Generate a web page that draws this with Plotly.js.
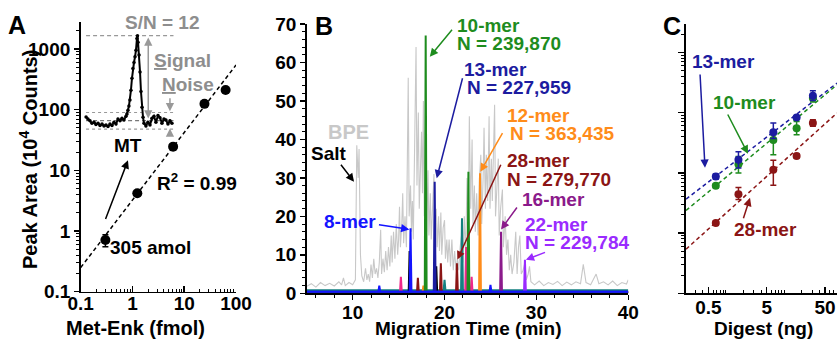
<!DOCTYPE html>
<html><head><meta charset="utf-8">
<script src="https://cdn.plot.ly/plotly-3.0.1.min.js"></script>
<style>html,body{margin:0;padding:0;background:#fff;overflow:hidden}</style>
</head><body><div id="chart" style="width:837px;height:339px"></div>
<script>
// ---------- Panel A data ----------
const metEnk = [0.30, 1.24, 6.1, 24.6, 63];
const peakArea = [0.71, 4.2, 24.6, 125, 212];
const peakAreaErr = [0.16, 0.3, 1.5, 8, 15];
const fitAx = [0.1, 100];
const fitAy = [0.25, 545];
// inset electropherogram (drawn in panel A coordinates)
const insetX = [0.127,0.138,0.151,0.165,0.181,0.197,0.216,0.236,0.258,0.282,0.308,0.337,0.368,0.402,0.439,0.480,0.525,0.574,0.627,0.685,0.749,0.783,0.818,0.855,0.894,0.935,0.978,1.02,1.07,1.12,1.17,1.22,1.25,1.28,1.34,1.40,1.46,1.53,1.60,1.67,1.82,1.99,2.18,2.38,2.60,2.84,3.11,3.40,3.71,4.06,4.43,4.85,5.30,5.79];
const insetY = [76,70,66,60,62,57,60,55,58,54,56,53,58,55,62,58,70,66,72,68,78,85,98,115,144,210,330,480,600,745,960,1500,1660,1300,800,420,200,110,75,60,54,62,56,72,78,62,80,74,60,70,68,58,66,60];
const snTop = 1660, noiseHi = 90, noiseMid = 66, noiseLo = 48;
const insetSpan = [0.127, 6.2];

// ---------- Panel B data ----------
// base peak electropherogram: [migration time (min), intensity]
const bpePoints = [[5.0,1.8],[5.5,2.5],[6.0,1.6],[6.5,2.8],[7.0,2.0],[7.5,2.6],[8.0,1.9],[8.5,3.0],[8.8,2.2],[9.0,4.0],[9.2,2.0],[9.6,2.8],[10.0,2.2],[10.3,3.5],
 [10.45,38.5],[10.6,30],[10.7,37.5],[10.85,10],
 [11.0,4.5],[11.2,3.0],[11.4,6.5],[11.55,3.5],[11.7,5.0],[11.85,3.0],[12.0,7.5],[12.15,4.0],[12.3,9.0],[12.45,5.0],[12.6,6.5],[12.75,4.0],[12.9,8.0],[13.05,16.5],[13.15,5.0],[13.3,9.0],[13.45,5.5],[13.6,11.0],[13.75,6.0],[13.9,12.0],[14.05,7.0],[14.2,15.0],[14.3,8.0],[14.45,16.0],[14.6,9.0],[14.75,18.0],[14.9,10.0],[15.0,14.0],[15.1,22.5],[15.2,12.0],[15.35,18.0],[15.45,26.0],[15.55,13.0],[15.7,20.0],[15.85,12.0],[15.95,30.0],
 [16.05,56.0],[16.15,20.0],[16.3,28.0],[16.4,16.0],[16.5,24.0],[16.6,14.0],[16.75,40.0],[16.9,64.0],[17.0,28.0],[17.15,47.0],[17.25,22.0],[17.4,35.0],[17.5,42.0],[17.6,26.0],[17.7,50.0],[17.8,20.0],[17.95,28.0],[18.05,16.0],[18.2,32.0],[18.3,15.0],[18.45,26.0],[18.55,14.0],[18.7,24.0],[18.85,31.0],[18.95,16.0],[19.1,22.0],[19.2,12.0],[19.35,20.0],[19.45,11.0],[19.6,21.0],[19.7,10.0],[19.85,17.0],[20.0,19.0],[20.1,9.0],[20.25,14.0],[20.35,8.0],[20.5,14.0],[20.65,7.0],[20.8,14.0],[20.95,6.0],[21.1,11.0],[21.25,6.0],[21.4,9.0],[21.55,6.0],[21.7,12.0],[21.85,15.0],[22.0,8.0],[22.15,20.0],[22.3,10.0],[22.45,30.0],[22.6,20.0],[22.7,46.0],[22.85,22.0],[23.0,40.0],[23.1,18.0],[23.25,28.0],[23.35,16.0],[23.5,26.0],[23.65,15.0],[23.8,30.0],[23.95,36.0],[24.05,18.0],[24.2,30.0],[24.3,43.0],[24.45,22.0],[24.55,36.0],[24.7,24.0],[24.85,46.0],[24.95,22.0],[25.1,35.0],[25.2,24.0],[25.3,38.0],[25.45,49.0],[25.55,20.0],[25.7,30.0],[25.85,35.0],[25.95,15.0],[26.1,22.0],[26.3,27.0],[26.4,12.0],[26.6,20.0],[26.75,10.0],[26.9,14.0],[27.05,6.0],[27.2,10.0],[27.35,5.0],[27.55,8.0],[27.75,16.0],[27.9,5.0],[28.05,12.0],[28.2,15.0],[28.35,5.0],[28.55,6.0],[28.75,8.0],[28.9,3.5],[29.1,5.0],[29.25,7.0],[29.4,3.0],
 [29.8,2.2],[30.3,3.2],[30.8,2.0],[31.3,2.8],[31.8,2.3],[32.3,3.1],[32.8,2.0],[33.3,2.9],[33.8,2.2],[34.3,3.0],[34.8,2.5],[35.1,7.5],[35.4,2.8],[35.9,2.2],[36.5,5.0],[36.8,2.5],[37.3,3.0],[37.8,2.2],[38.3,3.2],[38.8,2.0],[39.3,2.8],[39.8,2.4],[40.0,3.5]];
const mer8T = [5,12.8,12.9,13.0,16.2,16.3,16.4,24.9,25.0,25.1,40];
const mer8I = [0.4,0.4,2.0,0.4,0.4,16.9,0.4,0.4,2.2,0.4,0.4];
const mer10T = [5,17.85,17.95,18.05,22.5,22.6,22.7,40];
const mer10I = [0.3,0.3,67,0.3,0.3,31.6,0.3,0.3];
const mer13T = [5,18.83,18.93,19.03,40];
const mer13I = [0.4,0.4,29,0.4,0.4];
const blackT = [5,16.1,16.2,16.3,19.0,19.1,19.2,40];
const blackI = [0.2,0.2,11,0.2,0.2,7,0.2,0.2];
const mer12T = [5,17.6,17.7,17.8,23.76,23.86,23.96,40];
const mer12I = [0.2,0.2,2,0.2,0.2,31.2,0.2,0.2];
const mer28T = [5,17.0,17.1,17.2,19.5,19.6,19.7,21.25,21.35,21.45,40];
const mer28I = [0.2,0.2,4,0.2,0.2,7.8,0.2,0.2,7.8,0.2,0.2];
const tealT = [5,19.9,20.0,20.1,21.8,21.9,22.0,40];
const tealI = [0.8,0.8,3.5,0.8,0.8,19.5,0.8,0.8];
const pinkT = [5,15.15,15.25,15.35,22.25,22.35,22.45,22.85,22.95,23.05,40];
const pinkI = [0.2,0.2,4.3,0.2,0.2,12,0.2,0.2,4.3,0.2,0.2];
const mer16T = [5,26.05,26.15,26.25,40];
const mer16I = [0.2,0.2,16,0.2,0.2];
const mer22T = [5,28.65,28.75,28.85,40];
const mer22I = [0.2,0.2,8.7,0.2,0.2];

// ---------- Panel C data ----------
const digest = [0.67, 1.64, 6.5, 16.3, 31];
const c13 = [8.7, 16.4, 47, 83, 191];
const c13Up = [0.9, 6, 20, 5, 40], c13Dn = [0.9, 4.4, 10, 5, 32];
const c10 = [6.1, 13.9, 35, 55, 175];
const c10Up = [0.5, 4.7, 8, 16, 25], c10Dn = [0.5, 4, 15, 12, 25];
const c28 = [1.47, 4.4, 11.2, 19.1, 67];
const c28Up = [0.12, 1.3, 5, 1.5, 9], c28Dn = [0.12, 0.8, 5, 1.5, 8];
const fitCx = [0.207, 80];
const fit13 = [3.66, 307];
const fit10 = [2.37, 288];
const fit28 = [0.54, 98];

// tick labels / positions
const aTicks = [0.1, 1, 10, 100];
const aYTicks = [0.1, 1, 10, 100, 1000];
const bXTicks = [10, 20, 30, 40];
const cXTicks = [0.5, 5, 50];
const cXLabels = ['0.5', '5', '50'];
const cYTicks = [0.1, 1, 10, 100, 1000];
const logMinorX = [0.2,0.3,0.4,0.5,0.6,0.7,0.8,0.9,2,3,4,5,6,7,8,9,20,30,40,50,60,70,80,90];
const logMinorY = [0.2,0.3,0.4,0.5,0.6,0.7,0.8,0.9,2,3,4,5,6,7,8,9,20,30,40,50,60,70,80,90,200,300,400,500,600,700,800,900,2000];
const cMinorX = [0.3,0.4,0.6,0.7,0.8,0.9,1,2,3,4,6,7,8,9,10,20,30,40,60,70];

// colours
const GREEN = '#1e8c1e', NAVY = '#1c1ca0', BLUE = '#1414ff', ORANGE = '#ff8c1a',
      DRED = '#8b1515', PURPLE = '#8b1a8b', VIOLET = '#9a2bff', TEAL = '#138080',
      PINK = '#f0288c', GRAY = '#c8c8c8', TGRAY = '#8e8e8e';

const FONT = '"Liberation Sans", Arial, sans-serif';
const traces = [];
// Panel A
traces.push({x: fitAx, y: fitAy, xaxis:'x', yaxis:'y', mode:'lines', line:{color:'#000', width:1.5, dash:'4px,3px'}, hoverinfo:'skip'});
traces.push({x: insetSpan, y: [snTop, snTop], xaxis:'x', yaxis:'y', mode:'lines', line:{color:'#999', width:1.2, dash:'4px,3px'}});
traces.push({x: insetSpan, y: [noiseHi, noiseHi], xaxis:'x', yaxis:'y', mode:'lines', line:{color:'#999', width:1.2, dash:'dot'}});
traces.push({x: insetSpan, y: [noiseMid, noiseMid], xaxis:'x', yaxis:'y', mode:'lines', line:{color:'#777', width:1.2, dash:'4px,3px'}});
traces.push({x: insetSpan, y: [noiseLo, noiseLo], xaxis:'x', yaxis:'y', mode:'lines', line:{color:'#999', width:1.2, dash:'dot'}});
traces.push({x: insetX, y: insetY, xaxis:'x', yaxis:'y', mode:'lines+markers', line:{color:'#000', width:2}, marker:{color:'#000', size:3.5}});
traces.push({x: metEnk, y: peakArea, xaxis:'x', yaxis:'y', mode:'markers', marker:{color:'#000', size:10},
  error_y:{type:'data', array: peakAreaErr, color:'#000', thickness:1.5, width:3}});
// Panel B
traces.push({x: bpePoints.map(p => p[0]), y: bpePoints.map(p => p[1]), xaxis:'x2', yaxis:'y2', mode:'lines', line:{color:GRAY, width:1.1}});
const spikes = [[tealT,tealI,TEAL],[pinkT,pinkI,PINK],[mer28T,mer28I,DRED],[mer12T,mer12I,ORANGE],[blackT,blackI,'#000'],
  [mer16T,mer16I,PURPLE],[mer22T,mer22I,VIOLET],[mer10T,mer10I,GREEN],[mer13T,mer13I,NAVY],[mer8T,mer8I,BLUE]];
spikes.forEach(s => traces.push({x:s[0], y:s[1], xaxis:'x2', yaxis:'y2', mode:'lines', line:{color:s[2], width:2}}));
// Panel C
[[fit13,NAVY],[fit10,GREEN],[fit28,DRED]].forEach(f => traces.push({x: fitCx, y: f[0], xaxis:'x3', yaxis:'y3', mode:'lines', line:{color:f[1], width:1.5, dash:'4px,3px'}}));
[[c10,c10Up,c10Dn,GREEN],[c13,c13Up,c13Dn,NAVY],[c28,c28Up,c28Dn,DRED]].forEach(c => traces.push({x: digest, y: c[0], xaxis:'x3', yaxis:'y3', mode:'markers',
  marker:{color:c[3], size:8}, error_y:{type:'data', symmetric:false, array:c[1], arrayminus:c[2], color:c[3], thickness:1.5, width:3}}));

const tf = {family: FONT, size: 19, color: '#000', weight: 'bold'};
const axBase = {showline:true, linecolor:'#000', linewidth:1.6, showgrid:false, zeroline:false, tickcolor:'#000', tickwidth:1.5, tickfont: tf, fixedrange:true};

const ann = [];
function txt(text, x, y, xref, yref, color, opts) {
  ann.push(Object.assign({text, x, y, xref, yref, xanchor:'center', yanchor:'middle', showarrow:false,
    font:{family:FONT, size:19, color, weight:'bold'}}, opts||{}));
}
function arr(x0, y0, x1, y1, xref, yref, color, opts) {
  ann.push(Object.assign({text:'', x:x1, y:y1, ax:x0, ay:y0, xref, yref, axref:xref, ayref:yref, showarrow:true,
    arrowhead:2, arrowsize:1.1, arrowwidth:1.5, arrowcolor:color, standoff:0, startstandoff:0}, opts||{}));
}
const big = c => ({family:FONT, size:25, color:c, weight:'bold'});
// panel letters
txt('A', 17/837, 1-25/339, 'paper', 'paper', '#000', {font:big('#000')});
txt('B', 324/837, 1-25.5/339, 'paper', 'paper', '#000', {font:big('#000')});
txt('C', 672/837, 1-26/339, 'paper', 'paper', '#000', {font:big('#000')});
// axis titles
txt('Met-Enk (fmol)', 135/837, 1-328/339, 'paper', 'paper', '#000', {font:{family:FONT,size:20,color:'#000',weight:'bold'}});
txt('Peak Area (10<sup>4</sup> Counts)', 28/837, 1-160/339, 'paper', 'paper', '#000', {textangle:-90, font:{family:FONT,size:20,color:'#000',weight:'bold'}});
txt('Migration Time (min)', 468/837, 1-328/339, 'paper', 'paper', '#000');
txt('Digest (ng)', 763/837, 1-328/339, 'paper', 'paper', '#000');
// Panel A annotations (log coordinates)
txt('S/N = 12', 0.569, 3.435, 'x', 'y', TGRAY);
txt('<u>S</u>ignal', 0.376, 2.818, 'x', 'y', TGRAY, {xanchor:'left'});
txt('<u>N</u>oise', 0.531, 2.416, 'x', 'y', TGRAY, {xanchor:'left'});
txt('MT', -0.081, 1.402, 'x', 'y', '#000');
txt('R<sup>2</sup> = 0.99', 1.239, 0.807, 'x', 'y', '#000');
txt('305 amol', 0.351, -0.268, 'x', 'y', '#000');
arr(0.305, 1.83, 0.305, 3.19, 'x', 'y', '#999', {arrowside:'end+start', arrowwidth:1.5});
arr(0.724, 2.212, 0.724, 1.975, 'x', 'y', '#999');
arr(0.724, 1.55, 0.724, 1.69, 'x', 'y', '#999');
arr(-0.531, 0.174, -0.087, 1.165, 'x', 'y', '#000');
// Panel B annotations
txt('BPE', 9.53, 42, 'x2', 'y2', GRAY, {font:{family:FONT,size:20,color:GRAY,weight:'bold'}});
txt('Salt', 7.43, 36.4, 'x2', 'y2', '#000');
arr(8.6, 33.8, 10.15, 29, 'x2', 'y2', '#000');
txt('8-mer', 9.71, 18.6, 'x2', 'y2', BLUE);
arr(12.7, 17.9, 16.17, 16.6, 'x2', 'y2', BLUE);
txt('10-mer', 21.15, 69.7, 'x2', 'y2', GREEN, {xanchor:'left'});
txt('N = 239,870', 21.15, 65.0, 'x2', 'y2', GREEN, {xanchor:'left'});
arr(20.95, 68.9, 18.4, 61.5, 'x2', 'y2', GREEN);
txt('13-mer', 21.87, 58.3, 'x2', 'y2', NAVY, {xanchor:'left'});
txt('N = 227,959', 22.2, 53.5, 'x2', 'y2', NAVY, {xanchor:'left'});
arr(22.0, 56.3, 19.15, 29.9, 'x2', 'y2', NAVY);
txt('12-mer', 26.58, 46.3, 'x2', 'y2', ORANGE, {xanchor:'left'});
txt('N = 363,435', 26.94, 41.6, 'x2', 'y2', ORANGE, {xanchor:'left'});
arr(26.4, 42, 23.9, 31.6, 'x2', 'y2', ORANGE);
txt('28-mer', 26.58, 34.5, 'x2', 'y2', DRED, {xanchor:'left'});
txt('N = 279,770', 26.58, 29.5, 'x2', 'y2', DRED, {xanchor:'left'});
arr(26.2, 33.8, 21.4, 8.8, 'x2', 'y2', DRED);
txt('16-mer', 28.2, 24.3, 'x2', 'y2', PURPLE, {xanchor:'left'});
arr(28.0, 22.7, 26.15, 16.6, 'x2', 'y2', PURPLE);
txt('22-mer', 28.57, 17.8, 'x2', 'y2', VIOLET, {xanchor:'left'});
txt('N = 229,784', 28.57, 13.2, 'x2', 'y2', VIOLET, {xanchor:'left'});
arr(31.1, 10.8, 28.85, 8.7, 'x2', 'y2', VIOLET);
// Panel C annotations (log coordinates)
txt('13-mer', -0.042, 2.841, 'x3', 'y3', NAVY);
arr(-0.445, 2.658, -0.359, 1.083, 'x3', 'y3', NAVY);
txt('10-mer', 0.322, 2.16, 'x3', 'y3', GREEN);
arr(0.018, 1.993, 0.378, 1.315, 'x3', 'y3', GREEN);
txt('28-mer', 0.670, 0.055, 'x3', 'y3', DRED);
arr(0.292, 0.221, 0.413, 0.585, 'x3', 'y3', DRED);

const layout = {
  width: 837, height: 339, margin:{l:0,r:0,t:0,b:0}, showlegend:false,
  paper_bgcolor:'#fff', plot_bgcolor:'rgba(0,0,0,0)',
  font:{family:FONT, size:19, color:'#000', weight:'bold'},
  xaxis: Object.assign({}, axBase, {domain:[80.7/837, 236/837], anchor:'y', type:'log', range:[-1,2],
    tickmode:'array', tickvals:aTicks, ticktext:['0.1','1','10','100'], ticks:'inside', ticklen:6, ticklabelstandoff:-6,
    minor:{tickmode:'array', tickvals:logMinorX, ticks:'inside', ticklen:3, tickcolor:'#000', tickwidth:1}}),
  yaxis: Object.assign({}, axBase, {domain:[1-291.7/339, 1-21.7/339], anchor:'x', type:'log', range:[-1,3.451],
    tickmode:'array', tickvals:aYTicks, ticktext:['0.1','1','10','100','1000'], ticks:'outside', ticklen:5,
    minor:{tickmode:'array', tickvals:logMinorY, ticks:'outside', ticklen:3, tickcolor:'#000', tickwidth:1}}),
  xaxis2: Object.assign({}, axBase, {domain:[306.7/837, 628.3/837], anchor:'y2', range:[5,40],
    tickmode:'array', tickvals:bXTicks, ticks:'outside', ticklen:5, ticklabelstandoff:-4,
    minor:{dtick:2, tick0:0, ticks:'outside', ticklen:3, tickcolor:'#000', tickwidth:1}}),
  yaxis2: Object.assign({}, axBase, {domain:[1-293.3/339, 1-24/339], anchor:'x2', range:[0,70],
    dtick:10, tick0:0, ticks:'outside', ticklen:5,
    minor:{dtick:2, tick0:0, ticks:'outside', ticklen:3, tickcolor:'#000', tickwidth:1}}),
  xaxis3: Object.assign({}, axBase, {domain:[686/837, 1], anchor:'y3', type:'log', range:[-0.685,1.905],
    tickmode:'array', tickvals:cXTicks, ticktext:cXLabels, ticks:'inside', ticklen:6, ticklabelstandoff:-4,
    minor:{tickmode:'array', tickvals:cMinorX, ticks:'inside', ticklen:3, tickcolor:'#000', tickwidth:1}}),
  yaxis3: Object.assign({}, axBase, {domain:[1-293.3/339, 1-24/339], anchor:'x3', type:'log', range:[-1,3.47],
    tickmode:'array', tickvals:cYTicks, showticklabels:false, ticks:'outside', ticklen:6,
    minor:{tickmode:'array', tickvals:logMinorY, ticks:'outside', ticklen:3, tickcolor:'#000', tickwidth:1}}),
  annotations: ann
};
Plotly.newPlot('chart', traces, layout, {staticPlot:true, displayModeBar:false});
</script></body></html>
